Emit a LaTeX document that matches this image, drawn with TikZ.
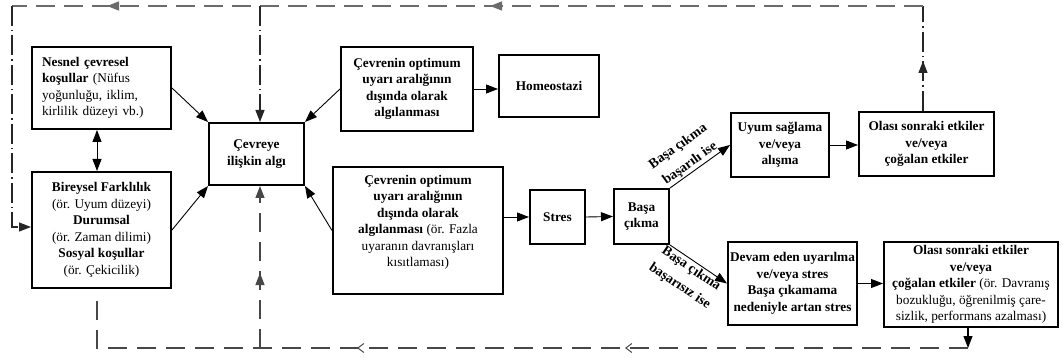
\documentclass[tikz,border=0pt]{standalone}
\usepackage{fontspec}
\setmainfont{Liberation Serif}
\usetikzlibrary{arrows.meta,decorations.markings}

\begin{document}
\begin{tikzpicture}[x=1pt,y=-1pt,
  txt/.style={font=\fontsize{13.3}{16.5}\selectfont},
  bold/.style={font=\fontsize{13.3}{16.5}\selectfont\bfseries},
  box/.style={draw, line width=2pt, inner sep=0pt, align=center, txt},
  bbox/.style={box, bold},
  link/.style={line width=0.9pt, -{Triangle[length=12pt,width=9pt]}},
  lab/.style={font=\fontsize{13.8}{20.5}\selectfont\bfseries, align=center, sloped, inner sep=1.5pt},
  fbtop/.style={draw=black!58, line width=1.3pt, dash pattern=on 19pt off 9pt},
  fbv/.style={draw=black!85, line width=1.1pt, dash pattern=on 20pt off 4pt on 1.5pt off 4pt},
  fbbot/.style={draw=black!72, line width=1.2pt, dash pattern=on 19pt off 10pt},
  midtip/.style={postaction={decorate}, decoration={markings,
      mark=at position #1 with {\arrow{Triangle[length=12pt,width=9pt]}}}},
  openmarks/.style 2 args={postaction={decorate}, decoration={markings,
      mark=at position #1 with {\arrow{Straight Barb[length=6pt,width=9pt,line width=1pt]}},
      mark=at position #2 with {\arrow{Straight Barb[length=6pt,width=9pt,line width=1pt]}}}},
  fillmarks/.style 2 args={postaction={decorate}, decoration={markings,
      mark=at position #1 with {\arrow{Triangle[length=12pt,width=9pt]}},
      mark=at position #2 with {\arrow{Triangle[length=12pt,width=9pt]}}}}
]
\useasboundingbox (0,0) rectangle (1063,358);

% boxes
\node[box, minimum width=139pt, minimum height=82pt, text width=119pt, align=left] (nes) at (101.5,88)
  {\textbf{Nesnel çevresel}\\\textbf{koşullar} (Nüfus\\yoğunluğu, iklim,\\kirlilik düzeyi vb.)};
\node[box, minimum width=139pt, minimum height=116pt] (bir) at (101.5,230)
  {\textbf{Bireysel Farklılık}\\(ör. Uyum düzeyi)\\\textbf{Durumsal}\\(ör. Zaman dilimi)\\\textbf{Sosyal koşullar}\\(ör. Çekicilik)};
\node[bbox, minimum width=95pt, minimum height=62pt] (cev) at (256.5,154) {Çevreye\\ilişkin algı};
\node[bbox, minimum width=132pt, minimum height=84pt] (opt1) at (407,89)
  {Çevrenin optimum\\uyarı aralığının\\dışında olarak\\algılanması};
\node[bbox, minimum width=100pt, minimum height=62pt] (hom) at (549,86) {Homeostazi};
\node[box, minimum width=170pt, minimum height=127pt] (opt2) at (418,230.5)
  {\textbf{Çevrenin optimum}\\\textbf{uyarı aralığının}\\\textbf{dışında olarak}\\\textbf{algılanması} (ör. Fazla\\uyaranın davranışları\\kısıtlaması)\\[3pt]};
\node[bbox, minimum width=55pt, minimum height=54pt] (str) at (557.5,217) {Stres};
\node[bbox, minimum width=55pt, minimum height=55pt] (bas) at (641.5,216.5) {Başa\\çıkma};
\node[bbox, minimum width=98pt, minimum height=64pt] (uyum) at (780,145) {Uyum sağlama\\ve/veya\\alışma};
\node[bbox, minimum width=135pt, minimum height=64pt] (ol1) at (926.5,144)
  {Olası sonraki etkiler\\ve/veya\\çoğalan etkiler};
\node[bbox, minimum width=129pt, minimum height=83pt] (dev) at (792.5,283.5)
  {Devam eden uyarılma\\ve/veya stres\\Başa çıkamama\\nedeniyle artan stres};
\node[box, minimum width=174pt, minimum height=85pt] (ol2) at (971,284.5)
  {\textbf{Olası sonraki etkiler}\\\textbf{ve/veya}\\\textbf{çoğalan etkiler} (ör. Davranış\\bozukluğu, öğrenilmiş çare-\\sizlik, performans azalması)};

% route points of the feedback loops
\coordinate (ol1top) at ([xshift=-3.5pt]ol1.north);
\coordinate (tr) at (923,6);
\coordinate (tl) at (12,6);
\coordinate (tm) at (260,6);
\coordinate (lc) at (12,227);
\coordinate (ol2bot) at ([xshift=-3pt]ol2.south);
\coordinate (br) at (968,348);
\coordinate (bm) at (260,348);
\coordinate (bl) at (97,348);
\coordinate (blend) at (97,298);

% main flow
\draw[link] (nes.east) -- (cev.north west);
\draw[link] (bir.east) -- (cev.south west);
\draw[link] (opt1.west) -- (cev.north east);
\draw[link] (opt2.west) -- (cev.south east);
\draw[line width=0.9pt, {Triangle[length=12pt,width=9pt]}-{Triangle[length=12pt,width=9pt]}]
  ([xshift=-4.5pt]nes.south) -- ([xshift=-4.5pt]bir.north);
\draw[link] (opt1.east) -- (opt1.east -| hom.west);
\draw[link] (opt2.east |- str.west) -- (str.west);
\draw[link] (str.east) -- (bas.west);
\draw[link] (bas.north east) -- node[lab, above, pos=0.415] {Başa çıkma\\başarılı ise} (uyum.west);
\draw[link] (uyum.east) -- (uyum.east -| ol1.west);
\draw[link] (bas.south east) -- node[lab, below, pos=0.45] {Başa çıkma\\başarısız ise} (dev.west);
\draw[link] (dev.east) -- (dev.east -| ol2.west);

% upper feedback loop
\draw[fbv, midtip=50pt] (ol1top) -- (tr);
\draw[fbtop, fillmarks={433pt}{816pt}] (tr) -- (tl);
\draw[fbv, -{Triangle[length=12pt,width=9pt]}] (tl) -- (lc) -- ([yshift=3pt]bir.west);
\draw[fbv, -{Triangle[length=12pt,width=9pt]}] (tm) -- (tm |- cev.north);

% lower feedback loop
\draw[line width=1.1pt, -{Triangle[length=12pt,width=9pt]}] (ol2bot) -- (br);
\draw[fbbot, openmarks={343pt}{611pt}] (br) -- (bl) -- (blend);
\draw[fbbot, midtip=75pt, -{Triangle[length=12pt,width=9pt]}] (bm) -- (bm |- cev.south);
\end{tikzpicture}
\end{document}
